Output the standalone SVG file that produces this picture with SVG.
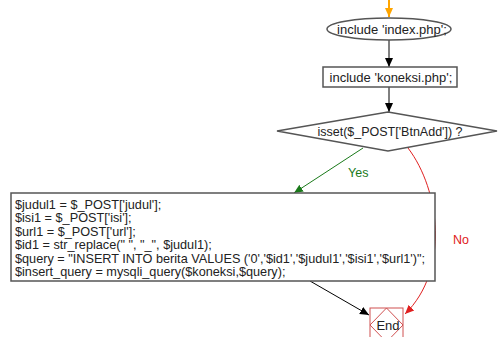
<svg xmlns="http://www.w3.org/2000/svg" width="498" height="337" viewBox="0 0 498 337">
<defs>
<style>
text{font-family:"Liberation Sans",Arial,sans-serif;font-size:12.5px;fill:#222}
.node{fill:#fff;stroke:#555;stroke-width:1.5}
.code{font-size:12.7px}
</style>
<marker id="ab" markerWidth="10" markerHeight="10" refX="9" refY="5" orient="auto" markerUnits="userSpaceOnUse"><path d="M0,1 L9,5 L0,9 Z" fill="#000"/></marker>
<marker id="ag" markerWidth="10" markerHeight="10" refX="9" refY="5" orient="auto" markerUnits="userSpaceOnUse"><path d="M0,1 L9,5 L0,9 Z" fill="#1a7a1a"/></marker>
<marker id="ar" markerWidth="10" markerHeight="10" refX="9" refY="5" orient="auto" markerUnits="userSpaceOnUse"><path d="M0,1 L9,5 L0,9 Z" fill="#e02020"/></marker>
<marker id="ao" markerWidth="10" markerHeight="10" refX="9" refY="5" orient="auto" markerUnits="userSpaceOnUse"><path d="M0,1 L9,5 L0,9 Z" fill="#ffa500"/></marker>
</defs>
<rect width="498" height="337" fill="#fff"/>
<g id="connectors" fill="none">
<line x1="389" y1="0" x2="389" y2="17" stroke="#ffa500" stroke-width="2" marker-end="url(#ao)"/>
<line x1="389" y1="40" x2="389" y2="67" stroke="#000" marker-end="url(#ab)"/>
<line x1="389" y1="87" x2="389" y2="112" stroke="#000" marker-end="url(#ab)"/>
<line x1="363" y1="148" x2="294" y2="193" stroke="#1a7a1a" marker-end="url(#ag)"/>
<text x="348" y="177" style="fill:#1a7a1a">Yes</text>
<path d="M408,148 C440,190 450,270 405,314" stroke="#e02020" marker-end="url(#ar)"/>
<text x="453" y="244" style="fill:#e02020">No</text>
<line x1="310" y1="281" x2="369" y2="315" stroke="#000" marker-end="url(#ab)"/>
</g>
<g id="start">
<ellipse cx="389" cy="29" rx="62" ry="11" class="node"/>
<text x="392" y="33.5" text-anchor="middle" style="font-size:13px">include 'index.php';</text>
</g>
<g id="include-koneksi">
<rect x="323" y="67" width="134" height="20" class="node"/>
<text x="391" y="82" text-anchor="middle" style="font-size:13px">include 'koneksi.php';</text>
</g>
<g id="decision">
<polygon points="388,112 497,131 388,151 277,131" class="node"/>
<text x="390" y="135.5" text-anchor="middle">isset($_POST['BtnAdd']) ?</text>
</g>
<g id="process">
<rect x="11" y="193" width="424" height="88" class="node"/>
<text class="code" x="15" y="208.5">$judul1 = $_POST['judul'];</text>
<text class="code" x="15" y="222">$isi1 = $_POST['isi'];</text>
<text class="code" x="15" y="235.5">$url1 = $_POST['url'];</text>
<text class="code" x="15" y="249">$id1 = str_replace(" ", "_", $judul1);</text>
<text class="code" x="15" y="262.5">$query = "INSERT INTO berita VALUES ('0','$id1','$judul1','$isi1','$url1')";</text>
<text class="code" x="15" y="276">$insert_query = mysqli_query($koneksi,$query);</text>
</g>
<g id="end">
<rect x="370" y="308" width="33" height="34" fill="#fff" stroke="#d05050"/>
<polygon points="386.5,308 403,325 386.5,342 370,325" fill="none" stroke="#d05050"/>
<text x="388" y="330" text-anchor="middle" style="font-size:13px">End</text>
</g>
</svg>
